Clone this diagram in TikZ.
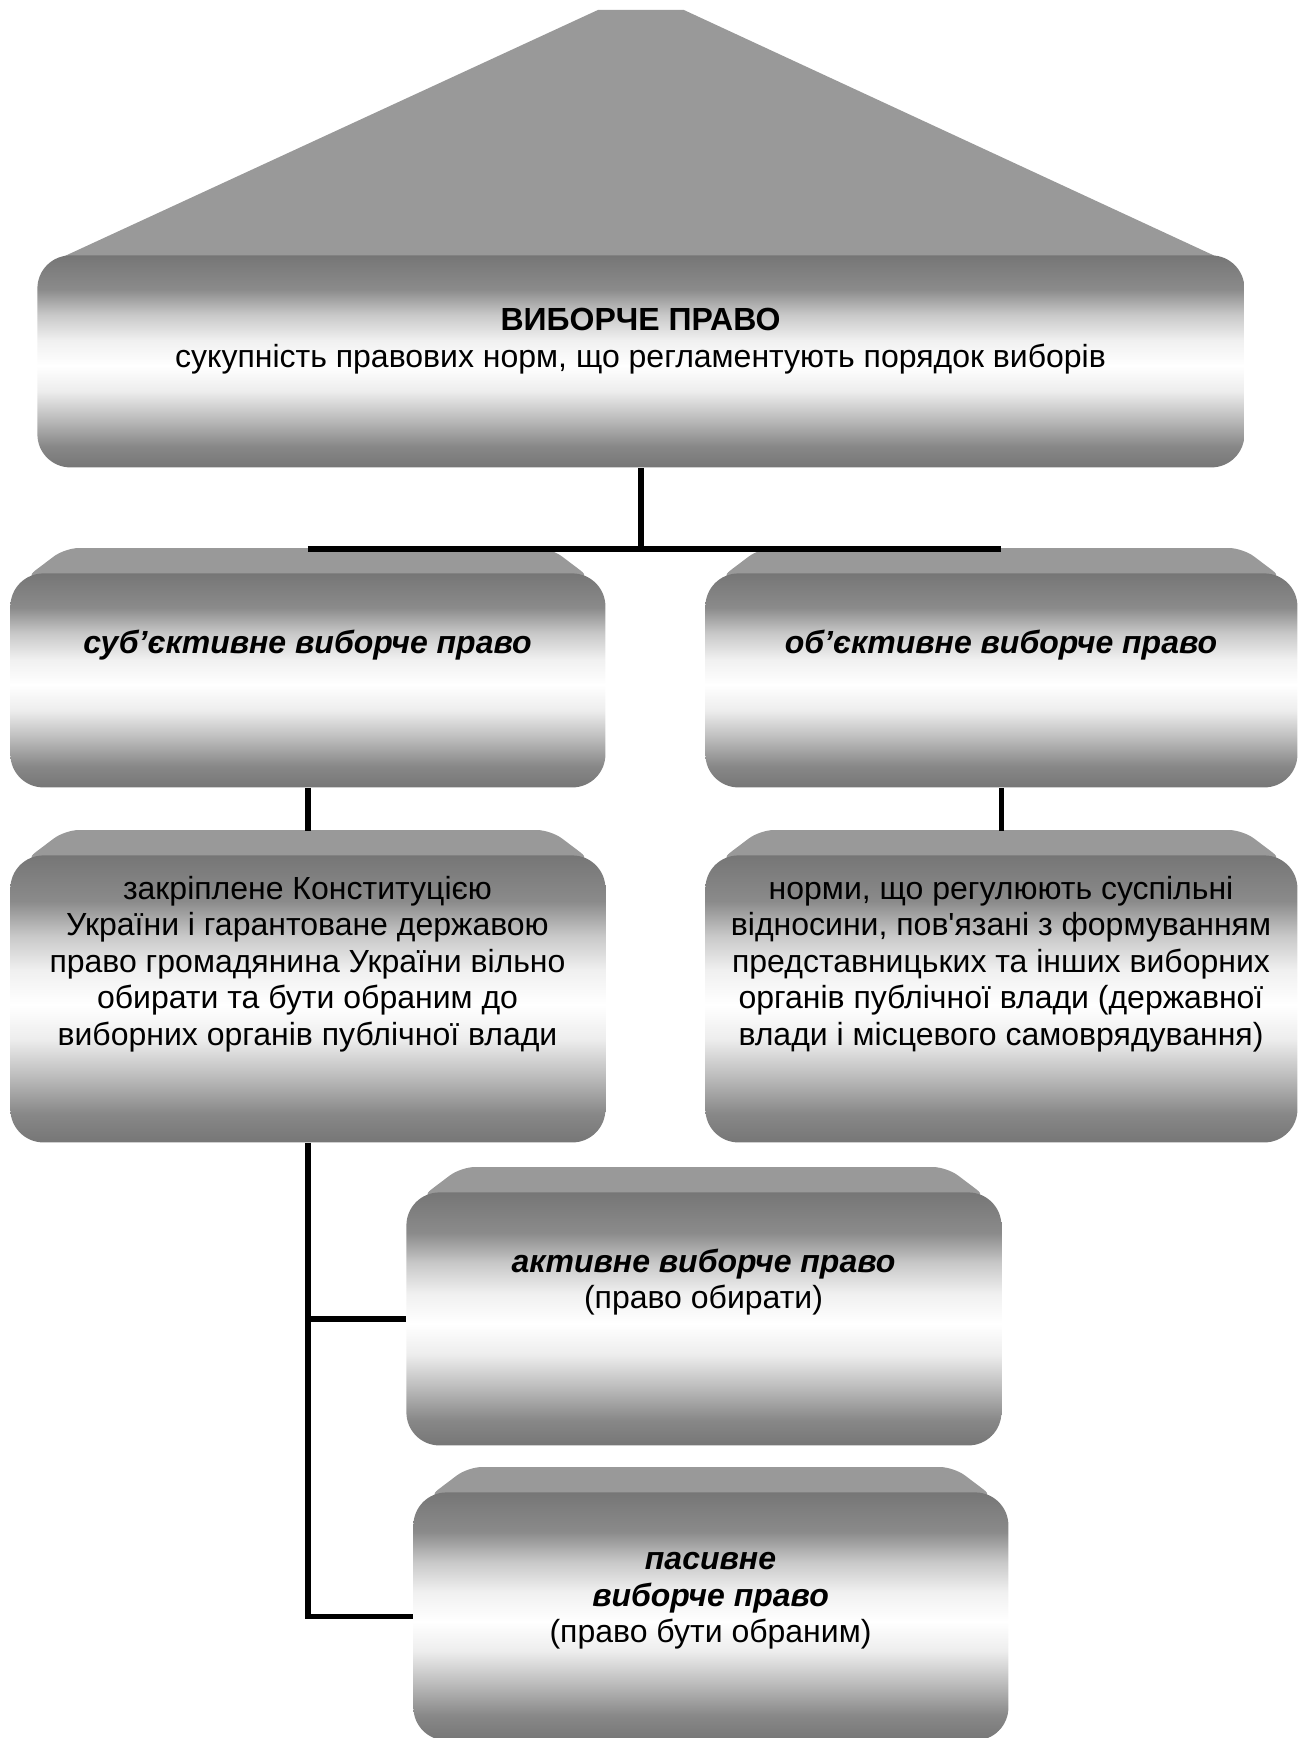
\documentclass[tikz,border=0pt]{standalone}
\usepackage{fontspec}
\setmainfont{Liberation Sans}
\usetikzlibrary{positioning}
\definecolor{Siryi}{HTML}{767676}
\definecolor{SvitloSiryi}{HTML}{999999}
\pgfdeclareverticalshading{blysk}{100bp}{color(0bp)=(Siryi); color(25bp)=(Siryi);
  color(30bp)=(Siryi!87!white); color(37bp)=(Siryi!46!white); color(43bp)=(Siryi!13!white);
  color(49bp)=(white); color(55bp)=(Siryi!11!white); color(61bp)=(Siryi!40!white);
  color(67bp)=(Siryi!85!white); color(75bp)=(Siryi); color(100bp)=(Siryi)}
\pgfdeclarelayer{fon}
\pgfsetlayers{fon,main}
\tikzset{
  korpus/.style={anchor=north west,inner sep=0pt,rounded corners=16.5pt,shade,shading=blysk},
  dakh/.style={fill=SvitloSiryi,rounded corners=7pt},
  liniya/.style={line width=2.8pt,black},
  tekst/.style={align=center,inner sep=0pt,font=\fontsize{16}{18.2}\selectfont}
}

\begin{document}
\begin{tikzpicture}[x=0.5pt,y=-0.5pt]
\useasboundingbox (0,0) rectangle (1298,1738);
% bodies
\node[korpus,minimum width=603.5pt,minimum height=106pt] (top) at (37,255) {};
\node[korpus,minimum width=297.5pt,minimum height=107pt] (subj) at (10,573) {};
\node[korpus,minimum width=296pt,minimum height=107pt] (obj) at (705,573) {};
\node[korpus,minimum width=297.5pt,minimum height=143.5pt] (konst) at (10,855) {};
\node[korpus,minimum width=296pt,minimum height=143.5pt] (norm) at (705,855) {};
\node[korpus,minimum width=297.5pt,minimum height=126.5pt] (aktiv) at (406,1192) {};
\node[korpus,minimum width=297.5pt,minimum height=124pt] (pasiv) at (413,1492) {};
% roofs
\begin{pgfonlayer}{fon}
\fill[dakh,sharp corners] ([shift={(17,6)}]top.north west) -- ([shift={(-43,-245)}]top.north)
  -- ([shift={(43,-245)}]top.north) -- ([shift={(-19,6)}]top.north east) -- cycle;
\foreach \k in {subj,obj,konst,norm,aktiv,pasiv}
  \fill[dakh] ([shift={(14,6)}]\k.north west) -- ([shift={(55,-25)}]\k.north west)
    -- ([shift={(-55,-25)}]\k.north east) -- ([shift={(-14,6)}]\k.north east) -- cycle;
\end{pgfonlayer}
% texts
\node[tekst] (topt) at (640.5,341) {\textbf{ВИБОРЧЕ ПРАВО}\\сукупність правових норм, що регламентують порядок виборів};
\node[tekst] (subjt) at (307.5,645) {\textbf{\textit{суб’єктивне виборче право}}};
\node[tekst] (objt) at (1001,645) {\textbf{\textit{об’єктивне виборче право}}};
\node[tekst] (konstt) at (307.5,964) {закріплене Конституцією\\України і гарантоване державою\\право громадянина України вільно\\обирати та бути обраним до\\виборних органів публічної влади};
\node[tekst] (normt) at (1001,964) {норми, що регулюють суспільні\\відносини, пов\textquotesingle язані з формуванням\\представницьких та інших виборних\\органів публічної влади (державної\\влади і місцевого самоврядування)};
\node[tekst] (aktivt) at (703.5,1282) {\textbf{\textit{активне виборче право}}\\(право обирати)};
\node[tekst] (pasivt) at (710.5,1601) {\textbf{\textit{пасивне}}\\\textbf{\textit{виборче право}}\\(право бути обраним)};
% connectors
\coordinate (vuzol) at ([yshift=-40.5pt]top.south);
\draw[liniya] (top.south) -- (vuzol);
\draw[liniya] (vuzol -| subj.north) -- (vuzol -| obj.north);
\draw[liniya] (subj.south) -- ([yshift=12pt]konst.north);
\draw[liniya] (obj.south) -- ([yshift=12pt]norm.north);
\draw[liniya] (konst.south) |- (aktiv.west);
\draw[liniya] (konst.south) |- (pasiv.west);
\end{tikzpicture}
\end{document}
